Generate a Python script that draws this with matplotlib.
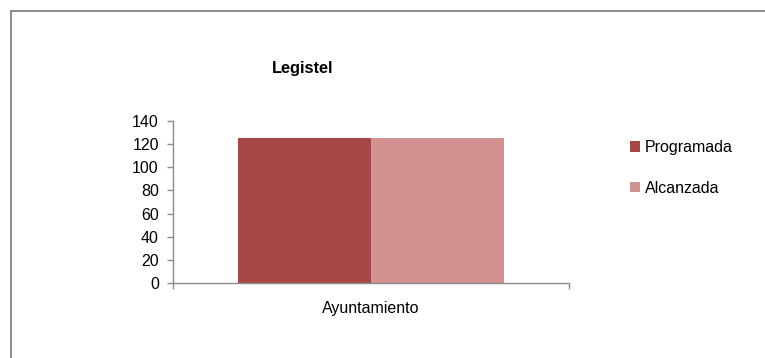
import matplotlib.pyplot as plt
from matplotlib.lines import Line2D

# datos
categorias = ["Ayuntamiento"]
programada = [125]
alcanzada = [125]
series = ["Programada", "Alcanzada"]
colores = ["#A64745", "#D39191"]

plt.rcParams['font.family'] = ['Liberation Sans', 'DejaVu Sans']

fig = plt.figure(figsize=(7.65, 3.58), dpi=100)
ax = fig.add_axes([0.2258, 0.2095, 0.5180, 0.4525])

ancho = 0.335
x = list(range(len(categorias)))
ax.bar([i - ancho / 2 for i in x], programada, width=ancho, color=colores[0], label=series[0])
ax.bar([i + ancho / 2 for i in x], alcanzada, width=ancho, color=colores[1], label=series[1])

ax.set_xlim(-0.5, len(categorias) - 0.5)
ax.set_ylim(0, 140)
ax.set_yticks(range(0, 141, 20))
ax.set_xticks(x)
ax.set_xticklabels(categorias)
ax.set_xticks([i - 0.5 for i in range(len(categorias) + 1)], minor=True)

gris = "#8C8C8C"
for s in ["top", "right"]:
    ax.spines[s].set_visible(False)
for s in ["left", "bottom"]:
    ax.spines[s].set_color(gris)
    ax.spines[s].set_linewidth(1.0)

ax.tick_params(axis="y", direction="out", length=4, width=1, color=gris, pad=6, labelsize=11.5)
ax.tick_params(axis="x", which="major", length=0, pad=13, labelsize=11.5)
ax.tick_params(axis="x", which="minor", direction="out", length=4, width=1, color=gris)

fig.text(0.395, 0.81, "Legistel", ha="center", va="center", fontsize=11.8, fontweight="bold")

fig.legend(loc="upper left", bbox_to_anchor=(630 / 765, 1 - 140 / 358), frameon=False,
           fontsize=11.5, handlelength=0.6, handleheight=0.65, handletextpad=0.35,
           labelspacing=1.6, borderpad=0, borderaxespad=0)

# marco del area del grafico (solo borde superior e izquierdo visibles)
fig.add_artist(Line2D([11 / 765, 1], [1 - 10.5 / 358, 1 - 10.5 / 358], color=gris, lw=1.4))
fig.add_artist(Line2D([11 / 765, 11 / 765], [0, 1 - 10.5 / 358], color=gris, lw=1.4))

fig.savefig("out.png", dpi=100)
